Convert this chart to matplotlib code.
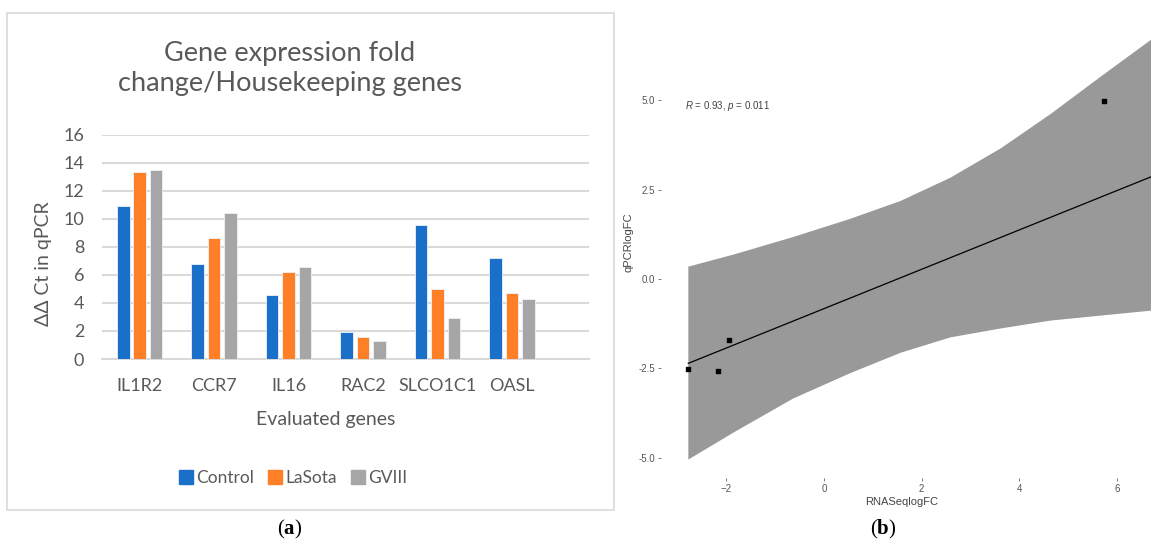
import numpy as np
import matplotlib
matplotlib.use("Agg")
import matplotlib.pyplot as plt
from matplotlib.patches import Rectangle, Patch

plt.rcParams['mathtext.fontset'] = 'custom'
plt.rcParams['mathtext.rm'] = 'Liberation Serif'
plt.rcParams['mathtext.bf'] = 'Liberation Serif:bold'
plt.rcParams['mathtext.it'] = 'Liberation Sans:italic'

# ---- data (a) ----
genes = ["IL1R2", "CCR7", "IL16", "RAC2", "SLCO1C1", "OASL"]
control = [10.9, 6.8, 4.55, 1.95, 9.55, 7.2]
lasota = [13.35, 8.65, 6.2, 1.6, 5.0, 4.7]
gviii = [13.45, 10.4, 6.55, 1.3, 2.95, 4.3]
series_names = ["Control", "LaSota", "GVIII"]
series_colors = ["#1A70C8", "#FF7F27", "#A6A6A6"]

# ---- data (b) ----
pts_x = [-2.78, -2.17, -1.95, 5.74]
pts_y = [-2.52, -2.57, -1.71, 4.99]
fit_x = [-2.78, 6.70]
fit_y = [-2.36, 2.86]
band_x = [-2.79, -1.86, -0.64, 0.53, 1.56, 2.58, 3.61, 4.63, 5.66, 6.70]
band_hi = [0.36, 0.70, 1.19, 1.70, 2.20, 2.85, 3.67, 4.63, 5.68, 6.72]
band_lo = [-5.04, -4.28, -3.33, -2.62, -2.05, -1.62, -1.37, -1.15, -1.01, -0.87]

W, H = 1151, 543
fig = plt.figure(figsize=(W / 100, H / 100), dpi=100)
txt = "#595959"
font_a = "Lato"

# frame around panel (a)
fig.patches.append(Rectangle((7 / W, 1 - 510 / H), (614 - 7) / W, (510 - 13) / H,
                             transform=fig.transFigure, fill=False,
                             edgecolor="#D9D9D9", linewidth=1.2))

ax = fig.add_axes([102.4 / W, 1 - 359 / H, (588.6 - 102.4) / W, (359 - 134.5) / H])
x = np.arange(len(genes))
for i, (vals, name, col) in enumerate(zip([control, lasota, gviii], series_names, series_colors)):
    ax.bar(x + (i - 1) * 0.22, vals, width=0.17, color=col, edgecolor="#EEF3FA",
           linewidth=0.6, zorder=3, label=name)
ax.set_xlim(-0.5, 6.03)
ax.set_ylim(0, 16)
ax.set_yticks(range(0, 17, 2))
ax.set_xticks(x)
ax.set_xticklabels(genes)
ax.grid(axis="y", color="#D9D9D9", linewidth=1.5, zorder=0)
for s in ["top", "right", "left"]:
    ax.spines[s].set_visible(False)
ax.spines["bottom"].set_color("#D9D9D9")
ax.spines["bottom"].set_linewidth(1.5)
ax.tick_params(length=0, labelcolor=txt, labelsize=13)
ax.tick_params(axis="y", pad=13)
ax.tick_params(axis="x", pad=14)
for lab in ax.get_xticklabels() + ax.get_yticklabels():
    lab.set_fontfamily(font_a)

fig.text(290 / W, 1 - 69 / H, "Gene expression fold\nchange/Housekeeping genes",
         ha="center", va="center", fontsize=19.5, color=txt, family=font_a, linespacing=1.25)
fig.text(43 / W, 1 - 264 / H, "ΔΔ Ct in qPCR", rotation=90, ha="center", va="center",
         fontsize=14, color=txt, family=font_a)
fig.text(326 / W, 1 - 419 / H, "Evaluated genes", ha="center", va="center",
         fontsize=14, color=txt, family=font_a)
handles = [Patch(color=c, label=n) for n, c in zip(series_names, series_colors)]
leg = fig.legend(handles=handles, loc="center", bbox_to_anchor=(293 / W, 1 - 478 / H),
                 ncol=3, frameon=False, handlelength=0.8, handleheight=0.8,
                 handletextpad=0.2, columnspacing=0.8,
                 prop={"family": font_a, "size": 12.5})
for t in leg.get_texts():
    t.set_color(txt)

fig.text(290 / W, 1 - 529 / H, r"$\mathrm{(}\mathbf{a}\mathrm{)}$", ha="center", va="center",
         fontsize=15, color="black")
fig.text(883 / W, 1 - 529 / H, r"$\mathrm{(}\mathbf{b}\mathrm{)}$", ha="center", va="center",
         fontsize=15, color="black")

# ---- panel (b) ----
bx = fig.add_axes([661 / W, 65 / H, 1 - 661 / W, 1 - 65 / H])
bx.fill_between(band_x, band_lo, band_hi, color="#999999", linewidth=0, zorder=1)
bx.plot(fit_x, fit_y, color="black", linewidth=0.9, zorder=2)
bx.scatter(pts_x, pts_y, s=9, marker="s", color="black", zorder=3)
bx.set_xlim(-3.34, 6.70)
bx.set_ylim(-5.57, 7.81)
bx.set_xticks([-2, 0, 2, 4, 6])
bx.set_yticks([-5.0, -2.5, 0.0, 2.5, 5.0])
bx.set_yticklabels(["-5.0", "-2.5", "0.0", "2.5", "5.0"])
for s in bx.spines.values():
    s.set_visible(False)
bx.tick_params(length=2.5, width=0.6, color="#666666", labelcolor="#555555",
               labelsize=7, pad=2)
for lab in bx.get_xticklabels() + bx.get_yticklabels():
    lab.set_fontfamily("Liberation Sans")
bx.text(-2.85, 4.84, r"$\it{R}$ = 0.93, $\it{p}$ = 0.011", ha="left", va="center",
        fontsize=7, color="#444444", family="Liberation Sans")
fig.text(902 / W, 1 - 502 / H, "RNASeqlogFC", ha="center", va="center",
         fontsize=8, color="#444444", family="Liberation Sans")
fig.text(628 / W, 1 - 242 / H, "qPCRlogFC", rotation=90, ha="center", va="center",
         fontsize=8, color="#444444", family="Liberation Sans")

fig.savefig("out.png", dpi=100)
